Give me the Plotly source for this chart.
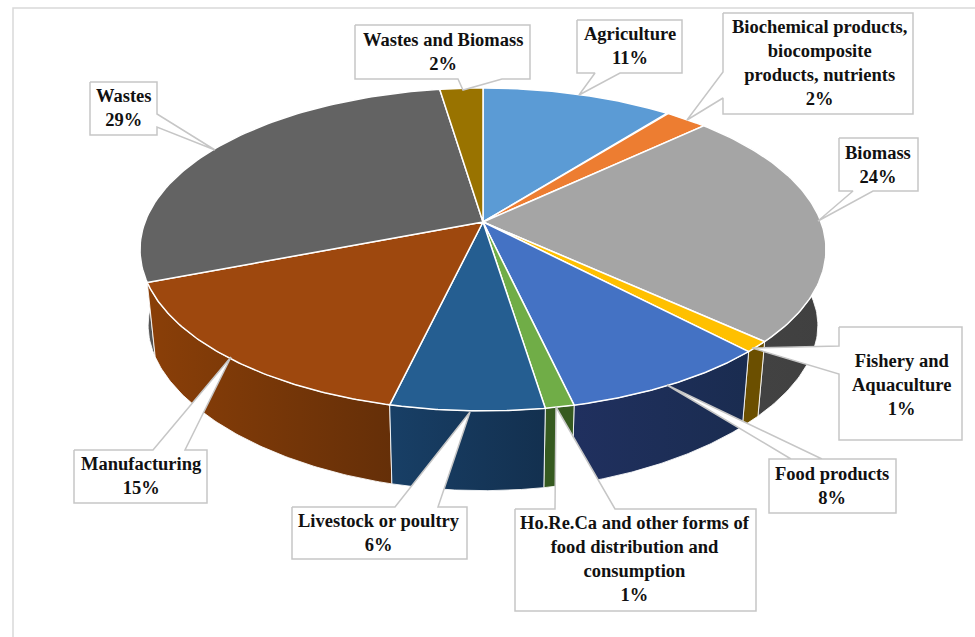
import numpy as np
import plotly.graph_objects as go

categories = ["Agriculture", "Biochemical products,<br>biocomposite<br>products, nutrients", "Biomass",
              "Fishery and<br>Aquaculture", "Food products",
              "Ho.Re.Ca and other forms of<br>food distribution and<br>consumption", "Livestock or poultry",
              "Manufacturing", "Wastes", "Wastes and Biomass"]
values = [10.6, 2.4, 23.8, 1.1, 8.49, 1.16, 6.15, 15.4, 28.51, 2.39]
top_colors = ["#5B9BD5", "#ED7D31", "#A5A5A5", "#FFC000", "#4472C4", "#70AD47", "#255E91", "#9E480E", "#636363", "#997300"]
wall_left = ["#3a6a96", "#a05520", "#444444", "#6b4f00", "#20305F", "#365A20", "#183F66", "#8A3F08", "#555555", "#665000"]
wall_right = ["#3a6a96", "#a05520", "#404040", "#6b4f00", "#1A2C50", "#365A20", "#13304F", "#652F08", "#555555", "#665000"]

# callouts: outline polygon (box with wedge), text centre
callouts = [
    ([(577,20),(682,20),(682,73),(620,73),(579,95),(595,73),(577,73)], (630,46)),
    ([(723,13),(913,13),(913,114),(723,114),(723,98),(687,120),(723,72)], (819,63)),
    ([(839,138),(918,138),(918,191),(873,191),(818,221),(853,191),(839,191)], (878,165)),
    ([(839,327),(962,327),(962,440),(839,440),(839,374),(752,348),(839,346)], (901,385)),
    ([(769,459),(896,459),(896,513),(769,513),(769,459),(791,459),(667,385),(822,459)], (832,486)),
    ([(515,509),(555,509),(556,407),(615,509),(756,509),(756,611),(515,611)], (635,559)),
    ([(292,507),(395,507),(470,412),(438,507),(467,507),(467,559),(292,559)], (379,533)),
    ([(74,450),(153,450),(231,357),(185,450),(207,450),(207,503),(74,503)], (141,476)),
    ([(90,82),(157,82),(157,114),(215,150),(157,127),(157,135),(90,135)], (124,108)),
    ([(355,25),(530,25),(530,79),(502,79),(463,90),(458,79),(355,79)], (443,52)),
]

CX, CY, A, B, K = 483, 222, 338, 156.8, 0.17
CY2, A2, B2, K2 = 300, 330, 143, 0.25

def top_xy(theta):
    u, v = np.sin(theta), -np.cos(theta)
    w = 1 / (1 - K * v)
    return CX + A * u * w, CY + B * v * w

def bot_xy(theta):
    u, v = np.sin(theta), -np.cos(theta)
    return CX + A2 * u / (1 - K * v), CY2 + B2 * v / (1 - K2 * v)

edges = np.cumsum([0] + values) / sum(values) * 2 * np.pi
fig = go.Figure()

def poly(xs, ys, fill=None, line=None, lw=0, grad=None):
    kw = dict(fillgradient=grad) if grad else dict(fillcolor=fill)
    fig.add_trace(go.Scatter(x=list(xs), y=list(ys), mode="lines", fill="toself", hoverinfo="skip",
                             showlegend=False, line=dict(color=line or "rgba(0,0,0,0)", width=lw), **kw))

# frame: only the top and left edges show in the window
fig.add_shape(type="rect", x0=13, y0=8, x1=1100, y1=800, line=dict(color="#D9D9D9", width=1.5), layer="below")

# walls, drawn back to front
order = sorted(range(len(values)), key=lambda i: -np.cos((edges[i] + edges[i + 1]) / 2))
for i in order:
    t = np.linspace(edges[i], edges[i + 1], 90)
    if np.cos(t).min() > 0.2:
        continue
    x1, y1 = top_xy(t)
    x2, y2 = bot_xy(t)
    xs = np.r_[x1, x2[::-1], x1[0]]
    ys = np.r_[y1, y2[::-1], y1[0]]
    grad = dict(type="horizontal", colorscale=[[0, wall_left[i]], [1, wall_right[i]]])
    poly(xs, ys, line="rgba(255,255,255,0.85)", lw=1, grad=grad)

# top faces
for i in range(len(values)):
    t = np.linspace(edges[i], edges[i + 1], 90)
    x1, y1 = top_xy(t)
    poly(np.r_[CX, x1, CX], np.r_[CY, y1, CY], fill=top_colors[i], line="white", lw=1.5)

# callouts and text
for i, (pts, (tx, ty)) in enumerate(callouts):
    xs, ys = zip(*(pts + [pts[0]]))
    poly(xs, ys, fill="white", line="#C6C6C6", lw=1.5)
    fig.add_annotation(x=tx, y=ty, text=f"<b>{categories[i]}<br>{round(values[i])}%</b>", showarrow=False,
                       font=dict(family="Liberation Serif", size=18.5, color="#111111"), align="center")

fig.update_layout(width=975, height=637, margin=dict(l=0, r=0, t=0, b=0), paper_bgcolor="white", plot_bgcolor="white",
                  showlegend=False,
                  xaxis=dict(range=[0, 975], visible=False, fixedrange=True),
                  yaxis=dict(range=[637, 0], visible=False, fixedrange=True))
fig.write_html("out.html", config=dict(displayModeBar=False),
               post_script="document.body.style.margin='0';document.body.style.overflow='hidden';")
